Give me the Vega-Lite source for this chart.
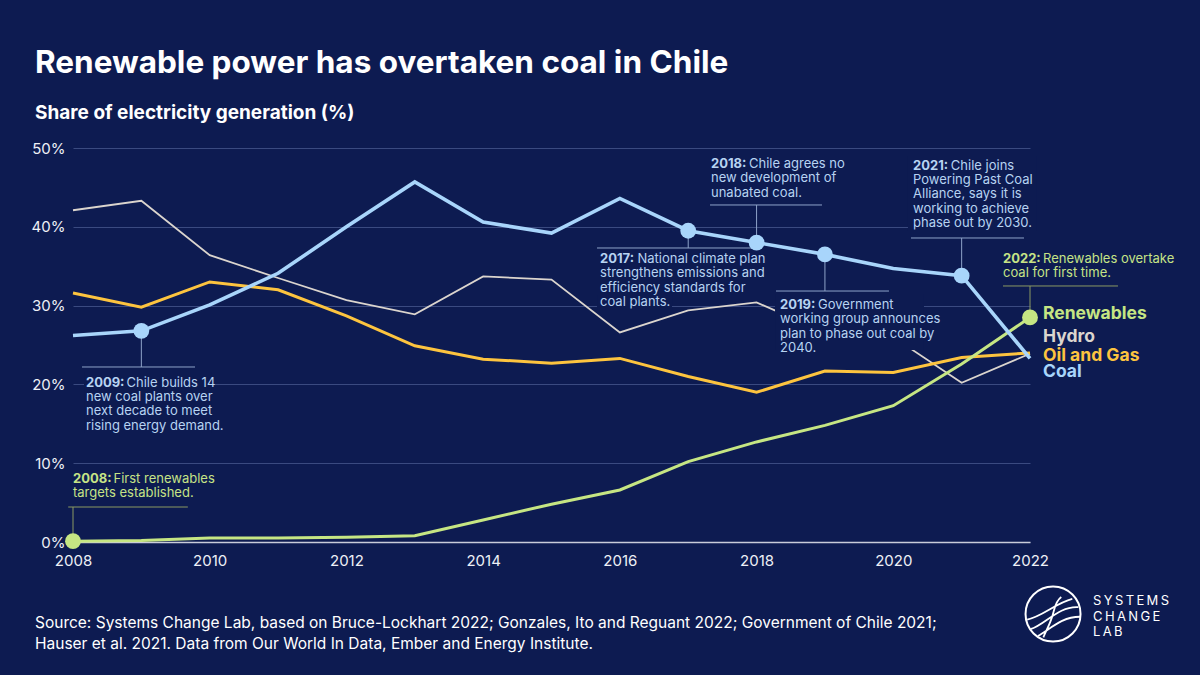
{
  "$schema": "https://vega.github.io/schema/vega-lite/v6.json",
  "width": 957,
  "height": 394,
  "autosize": {"type": "none"},
  "padding": {"left": 73, "top": 148, "right": 170, "bottom": 133},
  "background": "#0d1b51",
  "config": {"view": {"stroke": null}, "font": "Inter", "text": {"font": "Inter"}},
  "datasets": {
    "generation": [
      {"year": 2008, "series": "Coal", "share": 26.2}, {"year": 2009, "series": "Coal", "share": 26.8},
      {"year": 2010, "series": "Coal", "share": 30.1}, {"year": 2011, "series": "Coal", "share": 34.1},
      {"year": 2012, "series": "Coal", "share": 40.0}, {"year": 2013, "series": "Coal", "share": 45.7},
      {"year": 2014, "series": "Coal", "share": 40.6}, {"year": 2015, "series": "Coal", "share": 39.2},
      {"year": 2016, "series": "Coal", "share": 43.6}, {"year": 2017, "series": "Coal", "share": 39.5},
      {"year": 2018, "series": "Coal", "share": 38.0}, {"year": 2019, "series": "Coal", "share": 36.5},
      {"year": 2020, "series": "Coal", "share": 34.7}, {"year": 2021, "series": "Coal", "share": 33.8},
      {"year": 2022, "series": "Coal", "share": 23.3},
      {"year": 2008, "series": "Hydro", "share": 42.1}, {"year": 2009, "series": "Hydro", "share": 43.3},
      {"year": 2010, "series": "Hydro", "share": 36.4}, {"year": 2011, "series": "Hydro", "share": 33.5},
      {"year": 2012, "series": "Hydro", "share": 30.7}, {"year": 2013, "series": "Hydro", "share": 28.9},
      {"year": 2014, "series": "Hydro", "share": 33.7}, {"year": 2015, "series": "Hydro", "share": 33.3},
      {"year": 2016, "series": "Hydro", "share": 26.6}, {"year": 2017, "series": "Hydro", "share": 29.4},
      {"year": 2018, "series": "Hydro", "share": 30.4}, {"year": 2019, "series": "Hydro", "share": 26.6},
      {"year": 2020, "series": "Hydro", "share": 26.0}, {"year": 2021, "series": "Hydro", "share": 20.2},
      {"year": 2022, "series": "Hydro", "share": 23.9},
      {"year": 2008, "series": "Oil and Gas", "share": 31.6}, {"year": 2009, "series": "Oil and Gas", "share": 29.8},
      {"year": 2010, "series": "Oil and Gas", "share": 33.0}, {"year": 2011, "series": "Oil and Gas", "share": 32.0},
      {"year": 2012, "series": "Oil and Gas", "share": 28.7}, {"year": 2013, "series": "Oil and Gas", "share": 24.9},
      {"year": 2014, "series": "Oil and Gas", "share": 23.2}, {"year": 2015, "series": "Oil and Gas", "share": 22.7},
      {"year": 2016, "series": "Oil and Gas", "share": 23.3}, {"year": 2017, "series": "Oil and Gas", "share": 21.0},
      {"year": 2018, "series": "Oil and Gas", "share": 19.0}, {"year": 2019, "series": "Oil and Gas", "share": 21.7},
      {"year": 2020, "series": "Oil and Gas", "share": 21.5}, {"year": 2021, "series": "Oil and Gas", "share": 23.4},
      {"year": 2022, "series": "Oil and Gas", "share": 24.0},
      {"year": 2008, "series": "Renewables", "share": 0.1}, {"year": 2009, "series": "Renewables", "share": 0.2},
      {"year": 2010, "series": "Renewables", "share": 0.5}, {"year": 2011, "series": "Renewables", "share": 0.5},
      {"year": 2012, "series": "Renewables", "share": 0.6}, {"year": 2013, "series": "Renewables", "share": 0.8},
      {"year": 2014, "series": "Renewables", "share": 2.8}, {"year": 2015, "series": "Renewables", "share": 4.8},
      {"year": 2016, "series": "Renewables", "share": 6.6}, {"year": 2017, "series": "Renewables", "share": 10.2},
      {"year": 2018, "series": "Renewables", "share": 12.7}, {"year": 2019, "series": "Renewables", "share": 14.8},
      {"year": 2020, "series": "Renewables", "share": 17.3}, {"year": 2021, "series": "Renewables", "share": 22.6},
      {"year": 2022, "series": "Renewables", "share": 28.5}
    ],
    "notes": [
      {"year": 2008, "series": "Renewables", "share": 0.1, "head": "2008:", "first": "First renewables", "rest": ["targets established."]},
      {"year": 2009, "series": "Coal", "share": 26.8, "head": "2009:", "first": "Chile builds 14", "rest": ["new coal plants over", "next decade to meet", "rising energy demand."]},
      {"year": 2017, "series": "Coal", "share": 39.5, "head": "2017:", "first": "National climate plan", "rest": ["strengthens emissions and", "efficiency standards for", "coal plants."]},
      {"year": 2018, "series": "Coal", "share": 38.0, "head": "2018:", "first": "Chile agrees no", "rest": ["new development of", "unabated coal."]},
      {"year": 2019, "series": "Coal", "share": 36.5, "head": "2019:", "first": "Government", "rest": ["working group announces", "plan to phase out coal by", "2040."]},
      {"year": 2021, "series": "Coal", "share": 33.8, "head": "2021:", "first": "Chile joins", "rest": ["Powering Past Coal", "Alliance, says it is", "working to achieve", "phase out by 2030."]},
      {"year": 2022, "series": "Renewables", "share": 28.5, "head": "2022:", "first": "Renewables overtake", "rest": ["coal for first time."]}
    ],
    "credits": [
      {
        "title": "Renewable power has overtaken coal in Chile",
        "subtitle": "Share of electricity generation (%)",
        "source": ["Source: Systems Change Lab, based on Bruce-Lockhart 2022; Gonzales, Ito and Reguant 2022; Government of Chile 2021;", "Hauser et al. 2021. Data from Our World In Data, Ember and Energy Institute."],
        "brand": ["S\u2009Y\u2009S\u2009T\u2009E\u2009M\u2009S", "C\u2009H\u2009A\u2009N\u2009G\u2009E", "L\u2009A\u2009B"]
      }
    ]
  },
  "data": {"name": "generation"},
  "layer": [
    {
      "encoding": {
        "x": {
          "field": "year", "type": "quantitative", "title": null,
          "scale": {"domain": [2008, 2022], "nice": false, "zero": false},
          "axis": {
            "values": [2008, 2010, 2012, 2014, 2016, 2018, 2020, 2022], "format": "d",
            "grid": false, "ticks": false, "domain": true, "domainColor": "#c9ccda", "domainWidth": 1.5,
            "labelColor": "#eef0f6", "labelFontSize": 15, "labelPadding": 11, "labelFont": "Inter", "labelFlush": false
          }
        },
        "y": {
          "field": "share", "type": "quantitative", "title": null,
          "scale": {"domain": [0, 50], "nice": false},
          "axis": {
            "values": [0, 10, 20, 30, 40, 50], "labelExpr": "datum.value + '%'",
            "grid": true, "gridColor": "#3a4a80", "gridWidth": 1, "ticks": false, "domain": false,
            "labelColor": "#eef0f6", "labelFontSize": 15, "labelPadding": 8, "labelFont": "Inter", "labelFlush": false
          }
        }
      },
      "layer": [
        {
          "transform": [{"filter": "datum.series === 'Hydro'"}],
          "mark": {"type": "line", "color": "#dbd5ce", "strokeWidth": 1.8}
        },
        {
          "transform": [{"filter": "datum.series === 'Oil and Gas'"}],
          "mark": {"type": "line", "color": "#fdc43f", "strokeWidth": 3}
        },
        {
          "transform": [{"filter": "datum.series === 'Renewables'"}],
          "mark": {"type": "line", "color": "#c6e683", "strokeWidth": 3}
        },
        {
          "transform": [{"filter": "datum.series === 'Coal'"}],
          "mark": {"type": "line", "color": "#a8d5fb", "strokeWidth": 3.6}
        },
        {
          "data": {"name": "notes"},
          "transform": [{"filter": "datum.year === 2008"}],
          "layer": [
            {"mark": {"type": "rule", "color": "#8b9a63", "strokeWidth": 1}, "encoding": {"y2": {"datum": 4.44}}},
            {"mark": {"type": "rule", "color": "#8b9a63", "strokeWidth": 1}, "encoding": {"x": {"datum": 2007.93, "type": "quantitative", "title": null}, "x2": {"datum": 2009.68}, "y": {"datum": 4.44, "type": "quantitative", "title": null}}},
            {"mark": {"type": "text", "align": "left", "baseline": "alphabetic", "fontSize": 13, "fontWeight": "bold", "color": "#c6e386", "dx": 0, "dy": -58.7}, "encoding": {"text": {"field": "head"}}},
            {"mark": {"type": "text", "align": "left", "baseline": "alphabetic", "fontSize": 13, "color": "#c6e386", "dx": 40.5, "dy": -58.7}, "encoding": {"text": {"field": "first"}}},
            {"mark": {"type": "text", "align": "left", "baseline": "alphabetic", "fontSize": 13, "lineHeight": 14.2, "color": "#c6e386", "dx": 0, "dy": -44.5}, "encoding": {"text": {"field": "rest"}}}
          ]
        },
        {
          "data": {"name": "notes"},
          "transform": [{"filter": "datum.year === 2009"}],
          "layer": [
            {"mark": {"type": "rect", "color": "#0d1b51"}, "encoding": {"x": {"datum": 2008.161, "type": "quantitative", "title": null}, "x2": {"datum": 2010.033}, "y": {"datum": 21.57, "type": "quantitative", "title": null}, "y2": {"datum": 13.83}}},
            {"mark": {"type": "rule", "color": "#8ea3c9", "strokeWidth": 1}, "encoding": {"y2": {"datum": 22.21}}},
            {"mark": {"type": "rule", "color": "#8ea3c9", "strokeWidth": 1}, "encoding": {"x": {"datum": 2008.132, "type": "quantitative", "title": null}, "x2": {"datum": 2009.785}, "y": {"datum": 22.21, "type": "quantitative", "title": null}}},
            {"mark": {"type": "text", "align": "left", "baseline": "alphabetic", "fontSize": 13, "fontWeight": "bold", "color": "#b7d3f2", "dx": -55.4, "dy": 56.2}, "encoding": {"text": {"field": "head"}}},
            {"mark": {"type": "text", "align": "left", "baseline": "alphabetic", "fontSize": 13, "color": "#b7d3f2", "dx": -14.9, "dy": 56.2}, "encoding": {"text": {"field": "first"}}},
            {"mark": {"type": "text", "align": "left", "baseline": "alphabetic", "fontSize": 13, "lineHeight": 14.2, "color": "#b7d3f2", "dx": -55.4, "dy": 70.4}, "encoding": {"text": {"field": "rest"}}}
          ]
        },
        {
          "data": {"name": "notes"},
          "transform": [{"filter": "datum.year === 2017"}],
          "layer": [
            {"mark": {"type": "rect", "color": "#0d1b51"}, "encoding": {"x": {"datum": 2015.666, "type": "quantitative", "title": null}, "x2": {"datum": 2016.763}, "y": {"datum": 31.35, "type": "quantitative", "title": null}, "y2": {"datum": 29.44}}},
            {"mark": {"type": "rule", "color": "#8ea3c9", "strokeWidth": 1}, "encoding": {"y2": {"datum": 37.31}}},
            {"mark": {"type": "rule", "color": "#8ea3c9", "strokeWidth": 1}, "encoding": {"x": {"datum": 2015.666, "type": "quantitative", "title": null}, "x2": {"datum": 2017.933}, "y": {"datum": 37.31, "type": "quantitative", "title": null}}},
            {"mark": {"type": "text", "align": "left", "baseline": "alphabetic", "fontSize": 13, "fontWeight": "bold", "color": "#b7d3f2", "dx": -88.2, "dy": 32.3}, "encoding": {"text": {"field": "head"}}},
            {"mark": {"type": "text", "align": "left", "baseline": "alphabetic", "fontSize": 13, "color": "#b7d3f2", "dx": -50.7, "dy": 32.3}, "encoding": {"text": {"field": "first"}}},
            {"mark": {"type": "text", "align": "left", "baseline": "alphabetic", "fontSize": 13, "lineHeight": 14.3, "color": "#b7d3f2", "dx": -88.2, "dy": 46.6}, "encoding": {"text": {"field": "rest"}}}
          ]
        },
        {
          "data": {"name": "notes"},
          "transform": [{"filter": "datum.year === 2018"}],
          "layer": [
            {"mark": {"type": "rule", "color": "#8ea3c9", "strokeWidth": 1}, "encoding": {"y2": {"datum": 42.77}}},
            {"mark": {"type": "rule", "color": "#8ea3c9", "strokeWidth": 1}, "encoding": {"x": {"datum": 2017.319, "type": "quantitative", "title": null}, "x2": {"datum": 2018.957}, "y": {"datum": 42.77, "type": "quantitative", "title": null}}},
            {"mark": {"type": "text", "align": "left", "baseline": "alphabetic", "fontSize": 13, "fontWeight": "bold", "color": "#b7d3f2", "dx": -45.6, "dy": -74.6}, "encoding": {"text": {"field": "head"}}},
            {"mark": {"type": "text", "align": "left", "baseline": "alphabetic", "fontSize": 13, "color": "#b7d3f2", "dx": -7.6, "dy": -74.6}, "encoding": {"text": {"field": "first"}}},
            {"mark": {"type": "text", "align": "left", "baseline": "alphabetic", "fontSize": 13, "lineHeight": 14.3, "color": "#b7d3f2", "dx": -45.6, "dy": -60.3}, "encoding": {"text": {"field": "rest"}}}
          ]
        },
        {
          "data": {"name": "notes"},
          "transform": [{"filter": "datum.year === 2019"}],
          "layer": [
            {"mark": {"type": "rect", "color": "#0d1b51"}, "encoding": {"x": {"datum": 2018.27, "type": "quantitative", "title": null}, "x2": {"datum": 2020.449}, "y": {"datum": 31.47, "type": "quantitative", "title": null}, "y2": {"datum": 24.37}}},
            {"mark": {"type": "rule", "color": "#8ea3c9", "strokeWidth": 1}, "encoding": {"y2": {"datum": 31.85}}},
            {"mark": {"type": "rule", "color": "#8ea3c9", "strokeWidth": 1}, "encoding": {"x": {"datum": 2018.284, "type": "quantitative", "title": null}, "x2": {"datum": 2019.937}, "y": {"datum": 31.85, "type": "quantitative", "title": null}}},
            {"mark": {"type": "text", "align": "left", "baseline": "alphabetic", "fontSize": 13, "fontWeight": "bold", "color": "#b7d3f2", "dx": -44.9, "dy": 54.6}, "encoding": {"text": {"field": "head"}}},
            {"mark": {"type": "text", "align": "left", "baseline": "alphabetic", "fontSize": 13, "color": "#b7d3f2", "dx": -6.9, "dy": 54.6}, "encoding": {"text": {"field": "first"}}},
            {"mark": {"type": "text", "align": "left", "baseline": "alphabetic", "fontSize": 13, "lineHeight": 14.3, "color": "#b7d3f2", "dx": -44.9, "dy": 68.9}, "encoding": {"text": {"field": "rest"}}}
          ]
        },
        {
          "data": {"name": "notes"},
          "transform": [{"filter": "datum.year === 2021"}],
          "layer": [
            {"mark": {"type": "rect", "color": "#0d1b51"}, "encoding": {"x": {"datum": 2020.215, "type": "quantitative", "title": null}, "x2": {"datum": 2022.088}, "y": {"datum": 48.98, "type": "quantitative", "title": null}, "y2": {"datum": 39.47}}},
            {"mark": {"type": "rule", "color": "#8ea3c9", "strokeWidth": 1}, "encoding": {"y2": {"datum": 38.58}}},
            {"mark": {"type": "rule", "color": "#8ea3c9", "strokeWidth": 1}, "encoding": {"x": {"datum": 2020.259, "type": "quantitative", "title": null}, "x2": {"datum": 2021.912}, "y": {"datum": 38.58, "type": "quantitative", "title": null}}},
            {"mark": {"type": "text", "align": "left", "baseline": "alphabetic", "fontSize": 13, "fontWeight": "bold", "color": "#b7d3f2", "dx": -48.6, "dy": -105.7}, "encoding": {"text": {"field": "head"}}},
            {"mark": {"type": "text", "align": "left", "baseline": "alphabetic", "fontSize": 13, "color": "#b7d3f2", "dx": -10.8, "dy": -105.7}, "encoding": {"text": {"field": "first"}}},
            {"mark": {"type": "text", "align": "left", "baseline": "alphabetic", "fontSize": 13, "lineHeight": 14.2, "color": "#b7d3f2", "dx": -48.6, "dy": -91.5}, "encoding": {"text": {"field": "rest"}}}
          ]
        },
        {
          "data": {"name": "notes"},
          "transform": [{"filter": "datum.year === 2022"}],
          "layer": [
            {"mark": {"type": "rule", "color": "#8b9a63", "strokeWidth": 1}, "encoding": {"y2": {"datum": 32.49}}},
            {"mark": {"type": "rule", "color": "#8b9a63", "strokeWidth": 1}, "encoding": {"x": {"datum": 2021.605, "type": "quantitative", "title": null}, "x2": {"datum": 2023.287}, "y": {"datum": 32.49, "type": "quantitative", "title": null}}},
            {"mark": {"type": "text", "align": "left", "baseline": "alphabetic", "fontSize": 13, "fontWeight": "bold", "color": "#c6e386", "dx": -27, "dy": -54.4}, "encoding": {"text": {"field": "head"}}},
            {"mark": {"type": "text", "align": "left", "baseline": "alphabetic", "fontSize": 13, "color": "#c6e386", "dx": 13, "dy": -54.4}, "encoding": {"text": {"field": "first"}}},
            {"mark": {"type": "text", "align": "left", "baseline": "alphabetic", "fontSize": 13, "lineHeight": 14.4, "color": "#c6e386", "dx": -27, "dy": -40}, "encoding": {"text": {"field": "rest"}}}
          ]
        },
        {
          "data": {"name": "notes"},
          "mark": {"type": "point", "filled": true, "size": 250, "opacity": 1, "shape": "circle"},
          "encoding": {
            "color": {"field": "series", "type": "nominal", "scale": {"domain": ["Coal", "Renewables"], "range": ["#a8d5fb", "#c6e683"]}, "legend": null}
          }
        },
        {
          "transform": [{"filter": "datum.year === 2022 && datum.series === 'Renewables'"}],
          "mark": {"type": "text", "align": "left", "baseline": "alphabetic", "fontSize": 17.5, "fontWeight": "bold", "color": "#c6e683", "dx": 13, "dy": 1.6},
          "encoding": {"text": {"field": "series"}}
        },
        {
          "transform": [{"filter": "datum.year === 2022 && datum.series === 'Hydro'"}],
          "mark": {"type": "text", "align": "left", "baseline": "alphabetic", "fontSize": 17.5, "fontWeight": "bold", "color": "#dbd5ce", "dx": 13, "dy": -12},
          "encoding": {"text": {"field": "series"}}
        },
        {
          "transform": [{"filter": "datum.year === 2022 && datum.series === 'Oil and Gas'"}],
          "mark": {"type": "text", "align": "left", "baseline": "alphabetic", "fontSize": 17.5, "fontWeight": "bold", "color": "#fdc43f", "dx": 13, "dy": 8.6},
          "encoding": {"text": {"field": "series"}}
        },
        {
          "transform": [{"filter": "datum.year === 2022 && datum.series === 'Coal'"}],
          "mark": {"type": "text", "align": "left", "baseline": "alphabetic", "fontSize": 17.5, "fontWeight": "bold", "color": "#a8d5fb", "dx": 13, "dy": 19},
          "encoding": {"text": {"field": "series"}}
        }
      ]
    },
    {
      "data": {"name": "credits"},
      "layer": [
        {"mark": {"type": "text", "align": "left", "baseline": "alphabetic", "fontSize": 31.5, "fontWeight": "bold", "color": "#ffffff", "dx": -38, "dy": -74.7}, "encoding": {"x": {"datum": 2008, "type": "quantitative", "title": null}, "y": {"datum": 50, "type": "quantitative", "title": null}, "text": {"field": "title"}}},
        {"mark": {"type": "text", "align": "left", "baseline": "alphabetic", "fontSize": 19, "fontWeight": "bold", "color": "#ffffff", "dx": -38, "dy": -29.4}, "encoding": {"x": {"datum": 2008, "type": "quantitative", "title": null}, "y": {"datum": 50, "type": "quantitative", "title": null}, "text": {"field": "subtitle"}}},
        {"mark": {"type": "text", "align": "left", "baseline": "alphabetic", "fontSize": 15.5, "lineHeight": 21, "color": "#ffffff", "dx": -38, "dy": 86}, "encoding": {"x": {"datum": 2008, "type": "quantitative", "title": null}, "y": {"datum": 0, "type": "quantitative", "title": null}, "text": {"field": "source"}}},
        {"mark": {"type": "point", "shape": "circle", "filled": false, "size": 3025, "stroke": "#ffffff", "strokeWidth": 2, "opacity": 1}, "encoding": {"x": {"datum": 2022.337, "type": "quantitative", "title": null}, "y": {"datum": -9.14, "type": "quantitative", "title": null}}},
        {"mark": {"type": "point", "shape": "M-0.94,0.2 C-0.4,0.1 0.1,-0.4 0.7,-0.55 M-0.82,0.55 C-0.3,0.4 0.2,-0.3 0.92,-0.25 M0.3,-0.62 C0.05,-0.45 0.05,-0.1 -0.05,0.15 C-0.15,0.45 -0.3,0.7 -0.35,0.85 M-0.55,0.8 C-0.1,0.55 0.3,0.1 0.98,0.1", "filled": false, "size": 3025, "stroke": "#ffffff", "strokeWidth": 1.8, "opacity": 1}, "encoding": {"x": {"datum": 2022.337, "type": "quantitative", "title": null}, "y": {"datum": -9.14, "type": "quantitative", "title": null}}},
        {"mark": {"type": "text", "align": "left", "baseline": "alphabetic", "fontSize": 13, "lineHeight": 15.5, "color": "#ffffff", "dx": 40, "dy": -9}, "encoding": {"x": {"datum": 2022.337, "type": "quantitative", "title": null}, "y": {"datum": -9.14, "type": "quantitative", "title": null}, "text": {"field": "brand"}}}
      ]
    }
  ]
}
